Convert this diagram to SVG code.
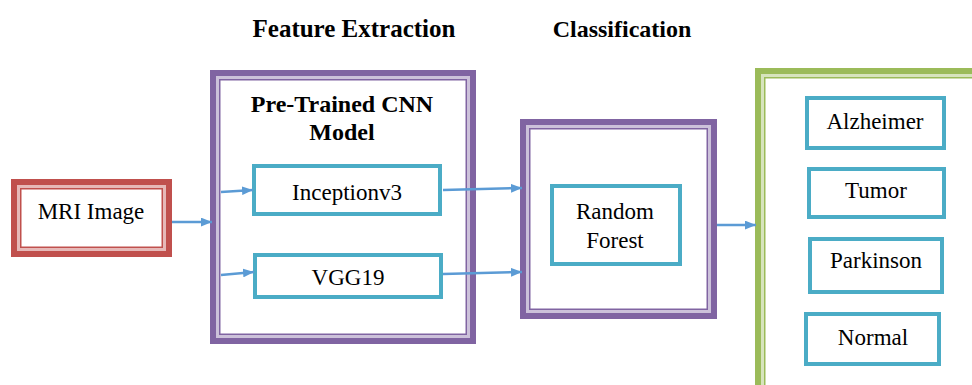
<svg xmlns="http://www.w3.org/2000/svg" width="972" height="385" viewBox="0 0 972 385">
<defs>
<marker id="ah" viewBox="0 0 10 8" refX="10" refY="4" markerWidth="11" markerHeight="9" markerUnits="userSpaceOnUse" orient="auto">
<path d="M0,0 L10,4 L0,8 z" fill="#5B9BD5"/>
</marker>
</defs>
<style>
text{fill:#000;text-anchor:middle}
.t{font-size:23px}
.h{font-size:24px;font-weight:bold}
.teal{fill:#fff;stroke:#4BACC6;stroke-width:4}
.conn line{stroke:#5B9BD5;stroke-width:2.5;marker-end:url(#ah)}
</style>
<rect width="972" height="385" fill="#fff"/>
<g font-family="'Liberation Serif', 'Times New Roman', 'DejaVu Serif', serif">
<g id="headers">
<text class="h" x="354" y="37" style="font-size:25px">Feature Extraction</text>
<text class="h" x="622" y="37">Classification</text>
</g>
<g id="mri">
<rect x="14" y="182" width="155" height="72" fill="#fff" stroke="#C0504D" stroke-width="6"/>
<rect x="18.5" y="186.5" width="146" height="63" fill="none" stroke="#E6B9B8" stroke-width="3"/>
<rect x="20.75" y="188.75" width="141.5" height="58.5" fill="none" stroke="#C0504D" stroke-width="1.5"/>
<text class="t" x="91" y="219">MRI Image</text>
</g>
<g id="feature">
<rect x="213" y="73" width="260" height="268" fill="#fff" stroke="#8064A2" stroke-width="6"/>
<rect x="217.5" y="77.5" width="251" height="259" fill="none" stroke="#CCC1DA" stroke-width="3"/>
<rect x="219.75" y="79.75" width="246.5" height="254.5" fill="none" stroke="#8064A2" stroke-width="1.5"/>
<text class="h" x="342" y="112">Pre-Trained CNN</text>
<text class="h" x="342" y="140">Model</text>
</g>
<g id="inception">
<rect class="teal" x="254" y="166" width="186" height="48"/>
<text class="t" x="347" y="200">Inceptionv3</text>
</g>
<g id="vgg">
<rect class="teal" x="255" y="255" width="186" height="42"/>
<text class="t" x="348" y="285">VGG19</text>
</g>
<g id="classifier">
<rect x="523" y="122" width="191" height="194" fill="#fff" stroke="#8064A2" stroke-width="6"/>
<rect x="527.5" y="126.5" width="182" height="185" fill="none" stroke="#CCC1DA" stroke-width="3"/>
<rect x="529.75" y="128.75" width="177.5" height="180.5" fill="none" stroke="#8064A2" stroke-width="1.5"/>
</g>
<g id="rf">
<rect class="teal" x="552" y="186" width="128" height="78"/>
<text class="t" x="615" y="219">Random</text>
<text class="t" x="615" y="248">Forest</text>
</g>
<g id="output">
<rect x="758" y="71" width="240" height="340" fill="#fff" stroke="#9BBB59" stroke-width="6"/>
<rect x="762.5" y="75.5" width="231" height="331" fill="none" stroke="#D7E4BD" stroke-width="3"/>
<rect x="764.75" y="77.75" width="226.5" height="326.5" fill="none" stroke="#9BBB59" stroke-width="1.5"/>
</g>
<g id="alzheimer">
<rect class="teal" x="807" y="98" width="137" height="50"/>
<text class="t" x="875" y="129">Alzheimer</text>
</g>
<g id="tumor">
<rect class="teal" x="809" y="169" width="135" height="48"/>
<text class="t" x="876" y="198">Tumor</text>
</g>
<g id="parkinson">
<rect class="teal" x="810" y="239" width="132" height="53"/>
<text class="t" x="876" y="268">Parkinson</text>
</g>
<g id="normal">
<rect class="teal" x="806" y="314" width="133" height="50"/>
<text class="t" x="873" y="345">Normal</text>
</g>
</g>
<g id="connectors" class="conn">
<line x1="172" y1="222" x2="212" y2="222"/>
<line x1="221" y1="192" x2="253" y2="190"/>
<line x1="221" y1="275" x2="254" y2="272"/>
<line x1="443" y1="190" x2="522" y2="188"/>
<line x1="443" y1="274" x2="522" y2="272"/>
<line x1="717" y1="225" x2="756" y2="225"/>
</g>
</svg>
